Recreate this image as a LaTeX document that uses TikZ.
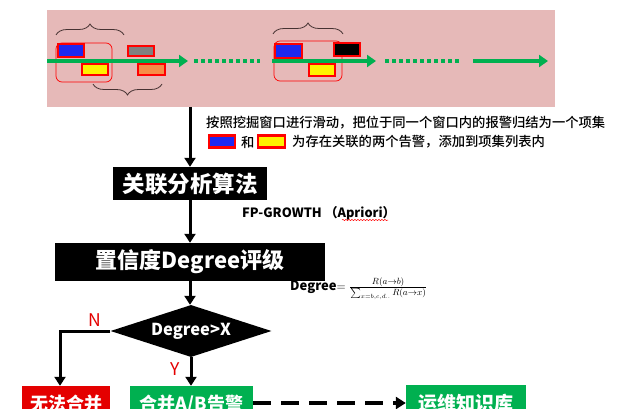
\documentclass[tikz,border=0pt]{standalone}
\usepackage{fontspec}
\setmainfont{Noto Sans CJK SC}
\newfontfamily\medfont{Noto Sans CJK SC}[UprightFont=* Medium]
\usetikzlibrary{arrows.meta,decorations.pathreplacing,decorations.pathmorphing,shapes.geometric}
\definecolor{pinkbg}{RGB}{230,185,184}
\definecolor{grn}{RGB}{0,176,80}
\definecolor{redbox}{RGB}{228,0,0}
\definecolor{alblue}{RGB}{30,40,240}
\definecolor{alorange}{RGB}{247,140,70}
\definecolor{bracecol}{RGB}{70,50,50}
\begin{document}
\begin{tikzpicture}[x=1pt,y=-1pt,
  alarm/.style={draw=red,line width=2.5pt,inner sep=0pt,rectangle},
  win/.style={draw=red,line width=0.7pt,rounded corners=6pt},
  brc/.style={draw=bracecol,line width=0.8pt,decorate,decoration={brace,amplitude=11pt}},
  gline/.style={draw=grn,line width=4pt},
  garrow/.style={gline,-{Triangle[length=9pt,width=12pt]}},
  gdots/.style={gline,dash pattern=on 3.5pt off 3.5pt},
  blk/.style={fill=black,text=white,font=\bfseries,inner sep=0pt},
  flow/.style={draw=black,line width=3pt,-{Triangle[length=9pt,width=11pt]}},
  lab/.style={font=\medfont\fontsize{13.3}{15}\selectfont,anchor=west,inner sep=0pt},
  yn/.style={text=redbox,font=\fontsize{17.5}{18}\selectfont,inner sep=0pt}
]
\clip (0,0) rectangle (631,409);
\useasboundingbox (0,0) rectangle (631,409);

% pink band
\fill[pinkbg] (47,10) rectangle (555,107);

% windows and braces
\draw[win] (56,43) rectangle (112,82);
\draw[win] (274,41) rectangle (342,81);
\draw[brc] (56,35) -- (124,35);
\draw[brc] (162,84) -- (93,84);
\draw[brc] (273,34) -- (343,34);

% alarms
\node[alarm,fill=alblue,minimum width=26pt,minimum height=13pt] (b1) at (71,50.5) {};
\node[alarm,fill=yellow,minimum width=26pt,minimum height=11pt] (y1) at (95,69.5) {};
\node[alarm,fill=gray,minimum width=26pt,minimum height=10pt] (g1) at (141,51) {};
\node[alarm,fill=alorange,minimum width=27pt,minimum height=11pt] (o1) at (151.5,69.5) {};
\node[alarm,fill=alblue,minimum width=27pt,minimum height=14pt] (b2) at (288.5,51) {};
\node[alarm,fill=black,minimum width=26pt,minimum height=13pt] (k2) at (347,49.5) {};
\node[alarm,fill=yellow,minimum width=26pt,minimum height=12pt] (y2) at (322,70) {};

% green time line
\coordinate (g1s) at (47,61);  \coordinate (g1e) at (188,61);
\coordinate (d1s) at (194,61); \coordinate (d1e) at (260,61);
\coordinate (g2s) at (272,61); \coordinate (g2e) at (376,61);
\coordinate (d2s) at (385,61); \coordinate (d2e) at (462,61);
\coordinate (g3s) at (473,61); \coordinate (g3e) at (548,61);
\draw[garrow] (g1s) -- (g1e);
\draw[gdots] (d1s) -- (d1e);
\draw[garrow] (g2s) -- (g2e);
\draw[gdots] (d2s) -- (d2e);
\draw[garrow] (g3s) -- (g3e);

% description text
\node[lab] (t1) at (206,123) {按照挖掘窗口进行滑动，把位于同一个窗口内的报警归结为一个项集};
\node[alarm,fill=alblue,minimum width=26pt,minimum height=12pt] (lb) at (222,141.5) {};
\node[lab] (he) at (241,142) {和};
\node[alarm,fill=yellow,minimum width=27pt,minimum height=12pt] (ly) at (271.5,141.5) {};
\node[lab] (t2) at (292,142) {为存在关联的两个告警，添加到项集列表内};

% flow boxes
\coordinate (top) at (190,107);
\node[blk,minimum width=154pt,minimum height=33pt,font=\bfseries\fontsize{22.5}{24}\selectfont] (algo) at (190,183.5) {关联分析算法};
\node[anchor=west,inner sep=0pt,font=\bfseries\fontsize{12.8}{14}\selectfont] (fp) at (242,213) {FP-GROWTH （Apriori）};
\draw[red,line width=0.5pt,decorate,decoration={snake,amplitude=0.6pt,segment length=3pt}] (342,220) -- (388,220);
\node[blk,minimum width=270pt,minimum height=38pt,font=\bfseries\fontsize{22}{24}\selectfont] (deg) at (190,262) {置信度Degree评级};
\node[anchor=west,inner sep=0pt] (formula) at (290,289) {\bfseries\fontsize{13}{15}\selectfont Degree$=\frac{R(a\to b)}{\sum_{x=b,c,d..}R(a\to x)}$};
\node[diamond,fill=black,text=white,inner sep=0pt,shape aspect=3.1,minimum width=161pt,minimum height=52pt,font=\bfseries\fontsize{16.5}{18}\selectfont] (dia) at (191,331) {Degree>X};

\node[fill=redbox,text=white,inner sep=0pt,minimum width=88pt,minimum height=36pt,font=\bfseries\fontsize{18}{20}\selectfont] (nomerge) at (66,404) {无法合并};
\node[fill=grn,text=white,inner sep=0pt,minimum width=123pt,minimum height=36pt,font=\bfseries\fontsize{18}{20}\selectfont] (merge) at (191.5,404) {合并A/B告警};
\node[fill=grn,text=white,inner sep=0pt,minimum width=120pt,minimum height=36pt,font=\bfseries\fontsize{19}{21}\selectfont] (kb) at (466,403) {运维知识库};

\node[yn] (nl) at (95,320) {N};
\node[yn] (yl) at (175,369) {Y};

% connectors
\draw[flow] (top) -- (algo.north);
\draw[flow] (algo.south) -- (deg.north);
\draw[flow] (deg.south) -- (deg.south |- dia.north);
\draw[flow] (dia.south) -- (dia.south |- merge.north);
\coordinate (nturn) at (60,331);
\draw[flow] (dia.west) -- (nturn) -- (nturn |- nomerge.north);
\coordinate (dstart) at (253,403);
\draw[draw=black,line width=4.5pt,dash pattern=on 18pt off 10pt,-{Triangle[length=10pt,width=12pt]}] (dstart) -- (dstart -| kb.west);
\end{tikzpicture}
\end{document}
